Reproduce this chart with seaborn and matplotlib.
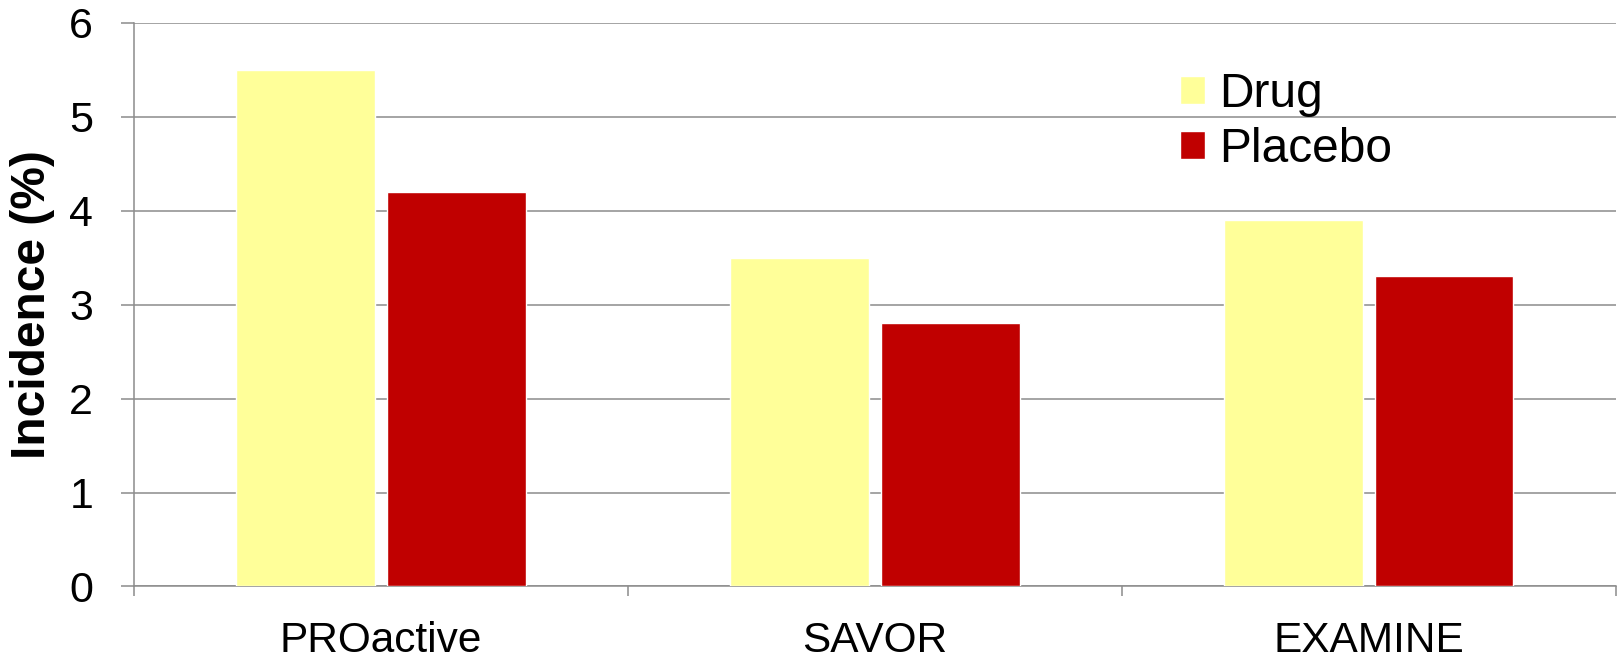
import matplotlib
matplotlib.use("Agg")
import matplotlib.pyplot as plt
import seaborn as sns
import pandas as pd

# Trial incidence data (%)
trials = ["PROactive", "SAVOR", "EXAMINE"]
drug = [5.5, 3.5, 3.9]
placebo = [4.2, 2.8, 3.3]
groups = ["Drug", "Placebo"]
colors = ["#FFFF99", "#C00000"]
y_ticks = [0, 1, 2, 3, 4, 5, 6]

df = pd.DataFrame({
    "Trial": trials * 2,
    "Group": [groups[0]] * len(trials) + [groups[1]] * len(trials),
    "Incidence": drug + placebo,
})

sns.set_theme(style="white")
plt.rcParams["font.family"] = ["Liberation Sans", "DejaVu Sans"]
plt.rcParams["text.color"] = "black"
plt.rcParams["axes.labelcolor"] = "black"
plt.rcParams["xtick.color"] = "black"
plt.rcParams["ytick.color"] = "black"

grey = "#8C8C8C"
fig = plt.figure(figsize=(16.19, 6.58), dpi=100)
ax = fig.add_axes([0.0828, 0.1087, 0.9152, 0.8568])

sns.barplot(data=df, x="Trial", y="Incidence", hue="Group",
            palette=colors, width=0.61, gap=0.08, saturation=1,
            ax=ax, zorder=3, legend=True)

ax.set_ylim(0, 6)
ax.set_xlim(-0.5, 2.5)
ax.set_yticks(y_ticks)
ax.set_yticklabels([str(t) for t in y_ticks], fontsize=31)
ax.set_xticks(range(len(trials)))
ax.set_xticklabels(trials, fontsize=30.5)
ax.set_xticks([-0.5, 0.5, 1.5, 2.5], minor=True)

ax.yaxis.grid(True, color=grey, linewidth=1.1, zorder=0)
ax.set_axisbelow(True)

for side in ["top", "right"]:
    ax.spines[side].set_visible(False)
for side in ["left", "bottom"]:
    ax.spines[side].set_color(grey)
    ax.spines[side].set_linewidth(1.1)

ax.tick_params(axis="y", which="major", left=True, length=9.4, width=1.1,
               color=grey, pad=20, labelcolor="black")
ax.tick_params(axis="x", which="major", bottom=False, length=0, pad=25,
               labelcolor="black")
ax.tick_params(axis="x", which="minor", bottom=True, length=7.2, width=1.1,
               color=grey, direction="out")

ax.set_xlabel("")
ax.set_ylabel("Incidence (%)", fontsize=34.5, fontweight="bold", color="black")
ax.yaxis.set_label_coords(-0.0533, 0.5)

handles, labels = ax.get_legend_handles_labels()
leg = ax.legend(handles, labels, loc="upper left",
                bbox_to_anchor=(1180 / 1619, 1 - 72 / 658),
                bbox_transform=fig.transFigure, frameon=False, fontsize=34.5,
                handlelength=0.52, handleheight=0.52, handletextpad=0.3,
                labelspacing=0.2, borderpad=0, borderaxespad=0)
for t in leg.get_texts():
    t.set_color("black")

fig.savefig("out.png", dpi=100, facecolor="white")
